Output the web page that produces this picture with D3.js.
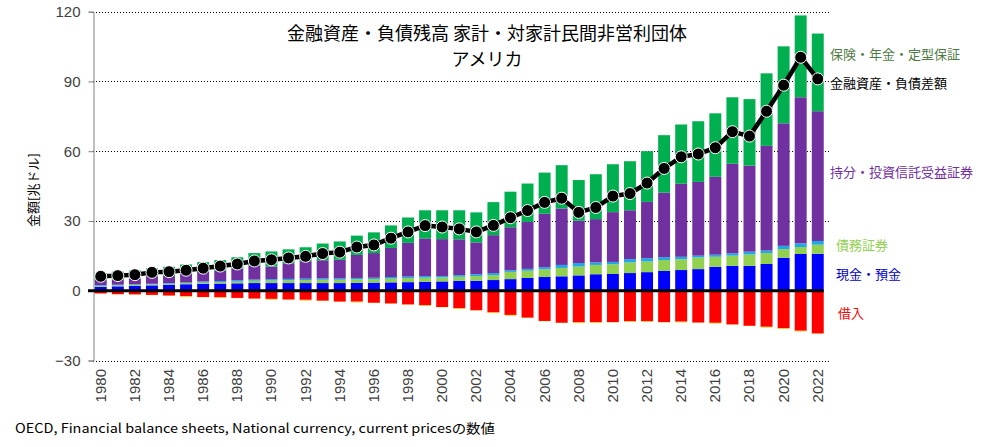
<!DOCTYPE html>
<html><head><meta charset="utf-8">
<script src="https://cdn.jsdelivr.net/npm/d3@7"></script>
<style>
html,body{margin:0;padding:0;background:#fff;}
svg{display:block;font-family:"Noto Sans CJK JP","Noto Sans",sans-serif;}
</style></head>
<body>
<svg id="chart" width="982" height="447"></svg>
<script>
const years = d3.range(1980, 2023);
// 現金・預金
const cash = [1.7,1.9,2.1,2.3,2.6,2.8,3.0,3.1,3.2,3.3,3.3,3.3,3.3,3.3,3.3,3.4,3.5,3.6,3.7,3.9,4.0,4.3,4.3,4.6,5.0,5.5,5.9,6.2,6.6,7.1,7.2,7.6,8.0,8.5,8.9,9.3,10.3,10.7,10.7,11.5,14.2,15.8,15.9];
// 債務証券
const debtSec = [0.4,0.4,0.4,0.4,0.4,0.5,0.5,0.6,0.7,1.0,1.1,1.2,1.3,1.4,1.4,1.5,1.5,1.6,1.7,1.7,1.7,1.7,2.0,2.1,3.1,3.1,3.3,3.6,3.8,4.0,4.2,4.6,4.6,4.7,4.6,5.0,4.3,4.4,4.9,4.7,3.7,3.0,3.9];
// その他（貸出等）
const otherAsset = [0.3,0.3,0.3,0.3,0.3,0.3,0.5,0.5,0.6,0.5,0.6,0.6,0.6,0.6,0.6,0.6,0.6,0.7,0.7,0.7,0.6,0.7,0.8,0.9,0.7,0.8,0.9,1.3,1.5,1.1,1.0,1.4,1.4,1.2,1.1,0.8,0.9,1.0,1.2,1.1,1.4,1.6,1.6];
// 持分・投資信託受益証券
const equity = [2.2,2.2,2.4,3.2,3.0,3.8,4.2,4.4,5.1,6.0,5.4,6.7,7.5,7.8,8.0,9.9,10.6,12.5,14.5,16.2,15.9,15.4,13.7,16.3,18.5,20.2,23.0,24.3,18.2,18.6,21.4,21.0,24.2,27.8,31.4,31.7,33.5,38.5,37.0,45.0,52.7,62.8,55.8];
// 保険・年金・定型保証
const insurance = [3.0,3.4,3.5,3.5,4.0,3.9,4.1,4.6,4.8,5.4,6.5,6.0,6.0,7.2,7.9,8.3,8.9,9.7,10.9,12.1,12.4,12.5,12.9,14.2,15.3,16.5,17.7,18.6,17.5,19.3,20.6,21.1,21.8,24.7,25.5,26.1,27.3,28.6,28.6,31.2,33.1,35.2,33.4];
// 借入
const loans = [-1.2,-1.5,-1.6,-1.8,-2.1,-2.3,-2.7,-2.8,-3.1,-3.4,-3.5,-3.8,-3.9,-4.3,-4.7,-4.7,-5.2,-5.5,-5.9,-6.2,-7.0,-7.5,-8.4,-9.3,-10.4,-11.6,-13.0,-13.8,-13.6,-13.5,-13.5,-13.1,-13.1,-13.5,-13.3,-13.7,-13.8,-14.5,-15.1,-15.5,-16.1,-17.2,-18.4];
// その他の負債
const otherLiab = [-0.1,-0.1,-0.1,-0.1,-0.1,-0.3,-0.1,-0.3,-0.1,-0.1,-0.3,-0.1,-0.3,-0.1,-0.1,-0.3,-0.1,-0.1,-0.1,-0.3,-0.1,-0.3,-0.1,-0.3,-0.3,-0.1,-0.1,-0.1,-0.3,-0.3,-0.1,-0.3,-0.3,-0.1,-0.3,-0.1,-0.3,-0.1,-0.1,-0.3,-0.3,-0.3,-0.1];
// 金融資産・負債差額
const netWorth = [6.2,6.5,6.9,7.9,8.2,8.8,9.7,10.6,11.5,12.8,13.3,14.1,14.8,16.0,16.6,18.8,19.7,22.6,25.3,28.0,27.4,26.6,25.3,28.1,31.4,34.5,38.0,39.8,33.7,35.8,40.7,41.8,46.3,52.6,57.6,58.8,61.5,68.4,66.5,77.2,88.4,100.4,91.1];
const yTicks = [-30,0,30,60,90,120];
const xTickYears = years.filter(y => y % 2 === 0);

const posSeries = [
  {key:"現金・預金", values:cash, color:"#0000ff"},
  {key:"債務証券", values:debtSec, color:"#92d050"},
  {key:"その他", values:otherAsset, color:"#1fa8e8"},
  {key:"持分・投資信託受益証券", values:equity, color:"#7030a0"},
  {key:"保険・年金・定型保証", values:insurance, color:"#00b050"}
];
const negSeries = [
  {key:"借入", values:loans, color:"#ff0000"},
  {key:"その他負債", values:otherLiab, color:"#ffc000"}
];

const svg = d3.select("#chart");
const x = d3.scaleBand().domain(years).range([92.2, 826.3]).paddingInner(0.3).paddingOuter(0.15);
const y = d3.scaleLinear().domain([-30, 120]).range([360.5, 11.7]);
const xLeft = 93, xRight = 829;

// gridlines
svg.append("g").selectAll("line").data(yTicks.filter(t => t !== 0)).join("line")
  .attr("x1", xLeft).attr("x2", xRight)
  .attr("y1", d => Math.round(y(d)) + 0.5).attr("y2", d => Math.round(y(d)) + 0.5)
  .attr("stroke", "#000").attr("stroke-width", 1).attr("stroke-dasharray", "1,2");

// y axis
const yAxis = svg.append("g").attr("transform", `translate(${xLeft + 0.5},0)`)
  .call(d3.axisLeft(y).tickValues(yTicks).tickSize(5).tickPadding(8));
yAxis.select(".domain").attr("stroke", "#808080");
yAxis.selectAll(".tick line").attr("stroke", "#808080");
yAxis.selectAll(".tick text").attr("font-size", 15).attr("fill", "#404040")
  .attr("font-family", "'Liberation Sans','DejaVu Sans',sans-serif");

// stacked bars
function drawStack(series) {
  years.forEach((yr, i) => {
    let acc = 0;
    series.forEach(s => {
      const v = s.values[i];
      const y0 = acc, y1 = acc + v;
      acc = y1;
      svg.append("rect")
        .attr("x", x(yr)).attr("width", x.bandwidth())
        .attr("y", y(Math.max(y0, y1)))
        .attr("height", Math.abs(y(y0) - y(y1)))
        .attr("fill", s.color);
    });
  });
}
drawStack(posSeries);
drawStack(negSeries);

// zero line
svg.append("line").attr("x1", xLeft - 5).attr("x2", x(2022) + x.bandwidth())
  .attr("y1", y(0)).attr("y2", y(0)).attr("stroke", "#000").attr("stroke-width", 3);

// net line
const cx = yr => x(yr) + x.bandwidth() / 2;
svg.append("path").datum(netWorth)
  .attr("d", d3.line().x((d, i) => cx(years[i])).y(d => y(d)))
  .attr("fill", "none").attr("stroke", "#000").attr("stroke-width", 4.5);
svg.append("g").selectAll("circle").data(netWorth).join("circle")
  .attr("cx", (d, i) => cx(years[i])).attr("cy", d => y(d)).attr("r", 6)
  .attr("fill", "#000").attr("stroke", "#fff").attr("stroke-width", 1);

// x labels
svg.append("g").selectAll("text").data(xTickYears).join("text")
  .attr("transform", d => `translate(${cx(d) + 5},369) rotate(-90)`)
  .attr("text-anchor", "end").attr("font-size", 15).attr("fill", "#404040")
  .attr("font-family", "'Liberation Sans','DejaVu Sans',sans-serif")
  .text(d => d);

// y title
svg.append("text").attr("transform", "translate(38,190) rotate(-90)")
  .attr("text-anchor", "middle").attr("font-size", 13).attr("fill", "#000")
  .text("金額[兆ドル]");

// title
svg.append("text").attr("x", 487).attr("y", 40).attr("text-anchor", "middle")
  .attr("font-size", 18).attr("font-weight", 400).attr("fill", "#000")
  .text("金融資産・負債残高 家計・対家計民間非営利団体");
svg.append("text").attr("x", 487).attr("y", 66).attr("text-anchor", "middle")
  .attr("font-size", 18).attr("font-weight", 400).attr("fill", "#000")
  .text("アメリカ");

// legend labels
const labels = [
  {t:"保険・年金・定型保証", x:830, y:55, c:"#4f7a45"},
  {t:"金融資産・負債差額", x:830, y:84, c:"#000"},
  {t:"持分・投資信託受益証券", x:830, y:173, c:"#7030a0"},
  {t:"債務証券", x:836, y:246, c:"#92d050"},
  {t:"現金・預金", x:836, y:275, c:"#0000c8"},
  {t:"借入", x:838, y:314, c:"#ff0000"}
];
svg.append("g").selectAll("text").data(labels).join("text")
  .attr("x", d => d.x).attr("y", d => d.y).attr("dominant-baseline", "middle")
  .attr("font-size", 13).attr("fill", d => d.c).text(d => d.t);

// footer
svg.append("text").attr("x", 15).attr("y", 433).attr("font-size", 13).attr("fill", "#000")
  .attr("textLength", 480).attr("lengthAdjust", "spacingAndGlyphs")
  .text("OECD, Financial balance sheets, National currency, current pricesの数値");
</script>
</body></html>
